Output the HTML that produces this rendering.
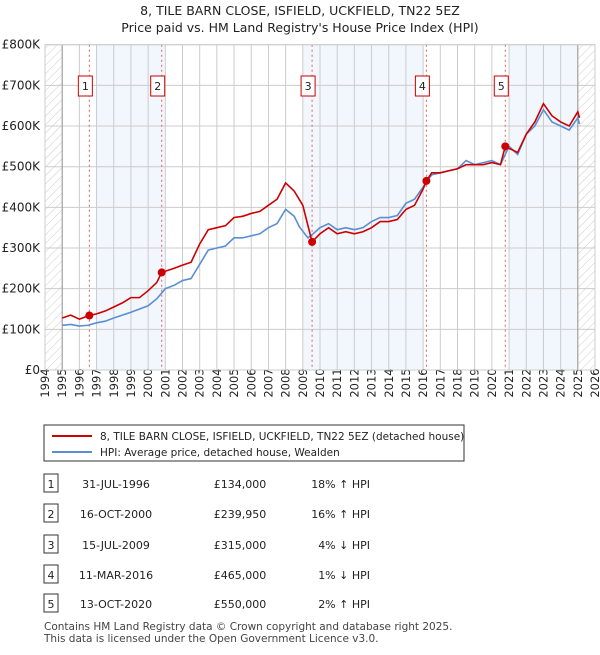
<!DOCTYPE html>
<html><head><meta charset="utf-8"><style>
body{margin:0;background:#fff;font-family:"Liberation Sans","DejaVu Sans",sans-serif;}
svg text{font-family:"DejaVu Sans","Liberation Sans",sans-serif;}
</style></head><body>
<svg id="c" width="600" height="650" xmlns="http://www.w3.org/2000/svg">
<defs><pattern id="h" width="6" height="6" patternUnits="userSpaceOnUse" patternTransform="rotate(45)"><line x1="0" y1="0" x2="0" y2="6" stroke="#ccc" stroke-width="1"/></pattern></defs>
<text x="300" y="15" text-anchor="middle" font-size="12.5" fill="#222">8, TILE BARN CLOSE, ISFIELD, UCKFIELD, TN22 5EZ</text>
<text x="300" y="32" text-anchor="middle" font-size="12.5" fill="#222">Price paid vs. HM Land Registry's House Price Index (HPI)</text>
<g id="plot"></g>
<g id="legend">
<rect x="44" y="425" width="420" height="36" fill="#fff" stroke="#333"/>
<line x1="52" y1="436" x2="92" y2="436" stroke="#cc0000" stroke-width="2"/>
<text x="100" y="440" font-size="10.5" fill="#222">8, TILE BARN CLOSE, ISFIELD, UCKFIELD, TN22 5EZ (detached house)</text>
<line x1="52" y1="452" x2="92" y2="452" stroke="#5b8fd4" stroke-width="2"/>
<text x="100" y="456" font-size="10.5" fill="#222">HPI: Average price, detached house, Wealden</text>
</g>
<g id="table"></g>
<text x="44" y="630" font-size="10.5" fill="#444">Contains HM Land Registry data © Crown copyright and database right 2025.</text>
<text x="44" y="642" font-size="10.5" fill="#444">This data is licensed under the Open Government Licence v3.0.</text>
</svg>
<script>
const hpiYears=[1995,1995.5,1996,1996.5,1997,1997.5,1998,1998.5,1999,1999.5,2000,2000.5,2001,2001.5,2002,2002.5,2003,2003.5,2004,2004.5,2005,2005.5,2006,2006.5,2007,2007.5,2008,2008.5,2008.8,2009.3,2009.6,2010,2010.5,2011,2011.5,2012,2012.5,2013,2013.5,2014,2014.5,2015,2015.5,2016,2016.5,2017,2017.5,2018,2018.5,2019,2019.5,2020,2020.5,2021,2021.5,2022,2022.5,2023,2023.5,2024,2024.5,2025,2025.1];
const hpiValues=[110,112,108,110,116,120,128,135,142,150,158,175,200,208,220,225,260,295,300,305,325,325,330,335,350,360,395,378,352,325,335,350,360,345,350,345,350,365,375,375,380,410,420,450,480,485,490,495,515,505,510,515,505,550,530,580,600,640,610,600,590,620,605];
const priceYears=[1995,1995.5,1996,1996.58,1997,1997.5,1998,1998.5,1999,1999.5,2000,2000.5,2000.79,2001.5,2002,2002.5,2003,2003.5,2004,2004.5,2005,2005.5,2006,2006.5,2007,2007.5,2008,2008.5,2009,2009.54,2010,2010.5,2011,2011.5,2012,2012.5,2013,2013.5,2014,2014.5,2015,2015.5,2016,2016.19,2016.5,2017,2017.5,2018,2018.5,2019,2019.5,2020,2020.5,2020.78,2021,2021.5,2022,2022.5,2023,2023.5,2024,2024.5,2025,2025.1];
const priceValues=[128,135,125,134,138,145,155,165,178,178,195,215,240,250,258,265,310,345,350,355,375,378,385,390,405,420,460,440,405,315,335,350,335,340,335,340,350,365,365,370,395,405,445,465,485,485,490,495,505,505,505,510,505,550,545,535,580,610,655,625,610,600,635,620];
const saleLabels=["1","2","3","4","5"];
const saleYears=[1996.58,2000.79,2009.54,2016.19,2020.78];
const salePrices=[134,239.95,315,465,550];
const saleDates=["31-JUL-1996","16-OCT-2000","15-JUL-2009","11-MAR-2016","13-OCT-2020"];
const salePriceText=["£134,000","£239,950","£315,000","£465,000","£550,000"];
const saleHpiText=["18% ↑ HPI","16% ↑ HPI","4% ↓ HPI","1% ↓ HPI","2% ↑ HPI"];
const yTicks=[0,100,200,300,400,500,600,700,800];
const yTickLabels=["£0","£100K","£200K","£300K","£400K","£500K","£600K","£700K","£800K"];
const bandStarts=[1997,2009,2021];
const bandEnds=[2001,2016,2025];

const X0=45,X1=595,Y0=370,Y1=44.7;
const xs=y=>X0+(y-1994)/(2026-1994)*(X1-X0);
const ys=v=>Y0-v/800*(Y0-Y1);
const NS="http://www.w3.org/2000/svg";
const plot=document.getElementById('plot');
function mk(tag,attrs,parent){const e=document.createElementNS(NS,tag);for(const k in attrs)e.setAttribute(k,attrs[k]);(parent||plot).appendChild(e);return e;}
for(let i=0;i<bandStarts.length;i++){
 const r=mk('rect',{x:xs(bandStarts[i]),y:Y1,width:xs(bandEnds[i])-xs(bandStarts[i]),height:Y0-Y1,fill:'#eef3fc',opacity:0.75});
 
 
}
const h1=mk('rect',{x:X0,y:Y1,width:xs(1995)-X0,height:Y0-Y1,fill:'url(#h)'});


const h2=mk('rect',{x:xs(2025),y:Y1,width:X1-xs(2025),height:Y0-Y1,fill:'url(#h)'});


for(let yr=1994;yr<=2026;yr++){
 const l=mk('line',{x1:xs(yr),x2:xs(yr),y1:Y1,y2:Y0,stroke:'#ccc','stroke-width':1});
 
 
 const t=mk('text',{x:0,y:0,'font-size':11.5,fill:'#222','text-anchor':'middle',transform:`translate(${xs(yr)+4},383) rotate(-90)`});
 t.textContent=yr;
 
 
}
yTicks.forEach((v,i)=>{
 const l=mk('line',{x1:X0,x2:X1,y1:ys(v),y2:ys(v),stroke:'#ccc','stroke-width':1});
 
 
 const t=mk('text',{x:40,y:ys(v)+4,'font-size':12,fill:'#222','text-anchor':'end'});
 t.textContent=yTickLabels[i];
 
 
});
[1995,2025].forEach(yr=>{const l=mk('line',{x1:xs(yr),x2:xs(yr),y1:Y1,y2:Y0,stroke:'#999','stroke-width':1});
 
 });
saleYears.forEach((yr,i)=>{
 const l=mk('line',{x1:xs(yr),x2:xs(yr),y1:Y1,y2:Y0,stroke:'#e06060','stroke-width':1,'stroke-dasharray':'2,3'});
 
 
});
const hp=mk('polyline',{points:hpiYears.map((y,i)=>xs(y)+','+ys(hpiValues[i])).join(' '),fill:'none',stroke:'#5b8fd4','stroke-width':1.6});


const pp=mk('polyline',{points:priceYears.map((y,i)=>xs(y)+','+ys(priceValues[i])).join(' '),fill:'none',stroke:'#cc0000','stroke-width':1.6});


saleYears.forEach((yr,i)=>{
 const c=mk('circle',{cx:xs(yr),cy:ys(salePrices[i]),r:4,fill:'#cc0000'});
 
 
 const bx=xs(yr)-11;
 const r=mk('rect',{x:bx,y:76,width:14,height:20,fill:'#fff',stroke:'#cc0000'});
 
 
 const t=mk('text',{x:bx+7,y:90,'font-size':11,fill:'#222','text-anchor':'middle'});
 t.textContent=saleLabels[i];
 
 
});
const frame=mk('rect',{x:X0,y:Y1,width:X1-X0,height:Y0-Y1,fill:'none',stroke:'#ccc'});


const tbl=document.getElementById('table');
const rowY=[484,514,545,575,604];
saleLabels.forEach((lab,i)=>{
 const y=rowY[i];
 const r=mk('rect',{x:44,y:y-10,width:14,height:18,fill:'#fff',stroke:'#333'},tbl);
 
 
 const cells=[[51,lab,'middle'],[116,saleDates[i],'middle'],[240,salePriceText[i],'middle'],[370,saleHpiText[i],'end']];
 cells.forEach(c=>{const t=mk('text',{x:c[0],y:y+4,'font-size':11,fill:'#222','text-anchor':c[2]},tbl);t.textContent=c[1];
  
  });
});
</script>
</body></html>
